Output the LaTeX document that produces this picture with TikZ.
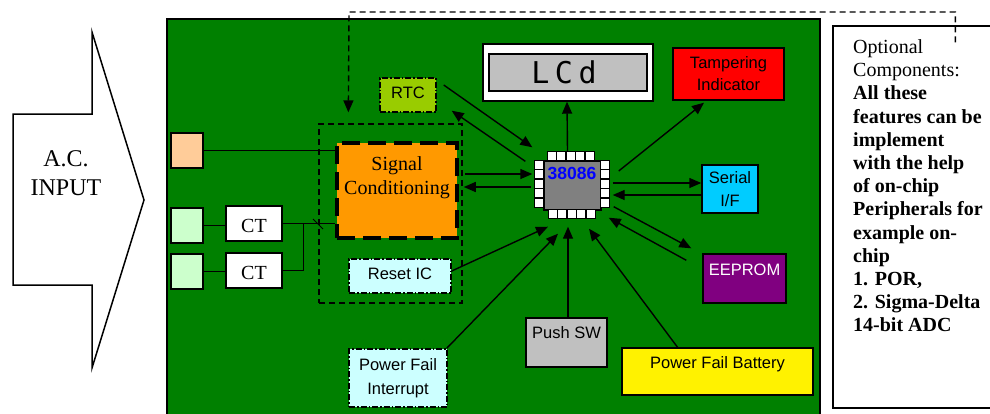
\documentclass[tikz,border=0pt]{standalone}
\usepackage{fontspec}
\setmainfont{Liberation Serif}
\newfontfamily\arialf{Liberation Sans}
\newfontfamily\lcdf{DejaVu Sans Mono}
\usetikzlibrary{arrows.meta,calc}
\definecolor{board}{HTML}{008000}
\definecolor{sigorange}{HTML}{FF9900}
\definecolor{peach}{HTML}{FFCC99}
\definecolor{lgreen}{HTML}{CCFFCC}
\definecolor{lcyan}{HTML}{CCFFFF}
\definecolor{rtcgreen}{HTML}{99CC00}
\definecolor{lgray}{HTML}{C0C0C0}
\definecolor{chipgray}{HTML}{808080}
\definecolor{serblue}{HTML}{00CCFF}
\definecolor{eeppurple}{HTML}{800080}
\definecolor{chipblue}{HTML}{0000FF}
\begin{document}
\begin{tikzpicture}[x=1pt,y=-1pt,
  box/.style={draw=black,line width=1.4pt,inner sep=0pt,rectangle},
  sans/.style={font=\arialf\fontsize{16.5pt}{23pt}\selectfont},
  ser/.style={font=\fontsize{20pt}{24pt}\selectfont},
  dashdot/.style={dash pattern=on 6pt off 2pt on 1.5pt off 2pt},
  dashln/.style={dash pattern=on 6pt off 4pt},
  conn/.style={line width=1.4pt,-{Triangle[length=12pt,width=10pt]}},
  wire/.style={line width=1.4pt},
  pin/.style={draw=black,fill=white,line width=1.2pt}
]
\clip (0,0) rectangle (990,413);
\fill[white] (0,0) rectangle (990,413);

% board
\draw[fill=board, line width=1.4pt] (167,19) rectangle (820,430);

% A.C. input arrow
\draw[fill=white, line width=1.5pt, line join=miter]
  (13,114) -- (92,114) -- (92,32) -- (144,200) -- (92,368) -- (92,285) -- (13,285) -- cycle;
\node[font=\fontsize{24pt}{29pt}\selectfont, align=center, inner sep=0pt] (acin) at (66,173.5) {A.C.\\INPUT};

% optional components box
\node[box, fill=white, minimum width=162, minimum height=382] (opt) at (914,217) {};
\node[anchor=north west, align=left, inner sep=0pt, font=\fontsize{20pt}{23.2pt}\selectfont] (opttext) at (853,39.5)
 {Optional\\Components:\\\textbf{All these}\\\textbf{features can be}\\\textbf{implement}\\\textbf{with the help}\\\textbf{of on-chip}\\\textbf{Peripherals for}\\\textbf{example on-}\\\textbf{chip}\\\textbf{1. POR,}\\\textbf{2. Sigma-Delta}\\\textbf{14-bit ADC}};

% input terminals and CTs
\node[box, fill=peach, minimum width=32, minimum height=35] (peach) at (187,150.5) {};
\node[box, fill=lgreen, minimum width=32, minimum height=35] (lg1) at (187,225.5) {};
\node[box, fill=lgreen, minimum width=32, minimum height=35] (lg2) at (187,271.5) {};
\node[box, fill=white, ser, minimum width=56, text height=26pt, text depth=9pt] (ct1) at (254,223.5) {CT};
\node[box, fill=white, ser, minimum width=56, text height=26pt, text depth=9pt] (ct2) at (254,270.5) {CT};

% group (dashed) and signal conditioning
\node[draw=black, line width=1.3pt, dashln, minimum width=143, minimum height=179, inner sep=0pt] (grp) at (390.5,213.5) {};
\node[draw=black, fill=sigorange, line width=3.5pt, dash pattern=on 18pt off 8pt, minimum width=120, minimum height=95, inner sep=0pt] (sc) at (397,190.5) {};
\node[ser, align=center, inner sep=0pt] (sctext) at (397,177.5) {Signal\\Conditioning};
\node[box, dashdot, fill=lcyan, sans, minimum width=102, text height=20pt, text depth=14pt] (reset) at (400,276) {Reset IC};

% wires
\draw[wire] (peach.east) -- (peach.east -| sc.west);
\draw[wire] (lg1.east) -- (lg1.east -| ct1.west);
\draw[wire] (lg2.east) -- (lg2.east -| ct2.west);
\draw[wire] (ct1.east) -- (ct1.east -| sc.west);
\draw[wire] (ct2.east) -| ($(ct1.east)+(21,0)$);
\draw[line width=1pt] (313,219) -- (323,229);

% peripherals
\node[box, dashdot, fill=rtcgreen, sans, minimum width=56, text height=20pt, text depth=14pt] (rtc) at (408,95) {RTC};
\node[box, fill=white, minimum width=170, minimum height=57] (lcd) at (568,72.5) {};
\node[box, fill=lgray, minimum width=158, minimum height=37] (lcdin) at (568,72.5) {};
\node[anchor=base, inner sep=0pt, font=\lcdf\fontsize{30pt}{30pt}\selectfont] (lcdtext) at (564,83) {L\kern5.5pt C\kern5.5pt d};
\node[box, fill=red, sans, align=center, minimum width=111, minimum height=52, font=\arialf\fontsize{16.5pt}{22pt}\selectfont] (tamp) at (728.5,74) {Tampering\\Indicator};
\node[box, fill=serblue, sans, align=center, minimum width=56, minimum height=48] (serial) at (730,189) {Serial\\I/F};
\node[box, fill=eeppurple, sans, text=white, minimum width=83, text height=21pt, text depth=28pt] (eep) at (744.5,278.5) {EEPROM};
\node[box, fill=yellow, sans, minimum width=191, text height=20pt, text depth=27pt] (bat) at (717.5,371.5) {Power Fail Battery};
\node[box, fill=lgray, sans, minimum width=81, text height=20pt, text depth=29pt] (psw) at (566.5,342.5) {Push SW};
\node[box, dashdot, fill=lcyan, sans, align=center, minimum width=98, minimum height=58, font=\arialf\fontsize{16.5pt}{24pt}\selectfont] (pfi) at (398,378) {Power Fail\\Interrupt};

% chip
\node[draw=black, fill=chipgray, line width=1.4pt, minimum width=57, minimum height=49, inner sep=0pt] (chip) at (572.5,185.5) {};
\begin{scope}[shift={(chip.north west)}]
\foreach \i in {0,...,4} {
  \draw[pin] (4+9.5*\i,-9) rectangle +(9,9);
  \draw[pin] (5+9.5*\i,49) rectangle +(9,9);
  \draw[pin] (-9,9.5*\i) rectangle +(9,9);
  \draw[pin] (57,9.5*\i) rectangle +(9,9);
}
\end{scope}
\node[anchor=base, inner sep=0pt, text=chipblue, font=\arialf\bfseries\fontsize{17.5pt}{20pt}\selectfont] (chiptext) at (572,179) {38086};

% connectors
\draw[conn] ($(rtc.east)+(7,-10)$) -- ($(chip.north west)+(-11,-13)$);
\draw[conn] ($(chip.north west)+(-18,1)$) -- ($(rtc.south east)+(15,-2)$);
\draw[conn] ($(sc.east)+(6,-16.5)$) -- ($(chip.west)+(-11,-11.5)$);
\draw[conn] ($(chip.west)+(-12,1.5)$) -- ($(sc.east)+(5,-3.5)$);
\draw[conn] ($(chip.north)+(-5,-9)$) -- ($(lcd.south)+(-1,0)$);
\draw[conn] ($(chip.east)+(17,-14.5)$) -- ($(tamp.south)+(-24.5,2)$);
\draw[conn] ($(chip.east)+(11,-2.5)$) -- ($(serial.west)+(0,-6)$);
\draw[conn] ($(serial.west)+(0,6)$) -- ($(chip.east)+(11,9.5)$);
\draw[conn] ($(chip.south east)+(12,-4)$) -- ($(eep.north west)+(-11,-5)$);
\draw[conn] ($(eep.north west)+(-16,7)$) -- ($(chip.south east)+(7,7)$);
\draw[conn] ($(bat.north west)+(57,1)$) -- ($(chip.south)+(16.5,18)$);
\draw[conn] ($(psw.north)+(1.5,0)$) -- ($(chip.south)+(-4.5,16)$);
\draw[conn] ($(pfi.north east)+(-1,0)$) -- ($(chip.south)+(-14.5,23)$);
\draw[conn] ($(reset.east)+(0,-5)$) -- ($(chip.south)+(-24.5,16)$);

% dashed link from optional box
\coordinate (dtop) at (349,12);
\draw[conn, dashln] ($(opt.north west)+(123,17)$) |- (dtop) -- ($(grp.north west)+(30,-11)$);
\end{tikzpicture}
\end{document}
